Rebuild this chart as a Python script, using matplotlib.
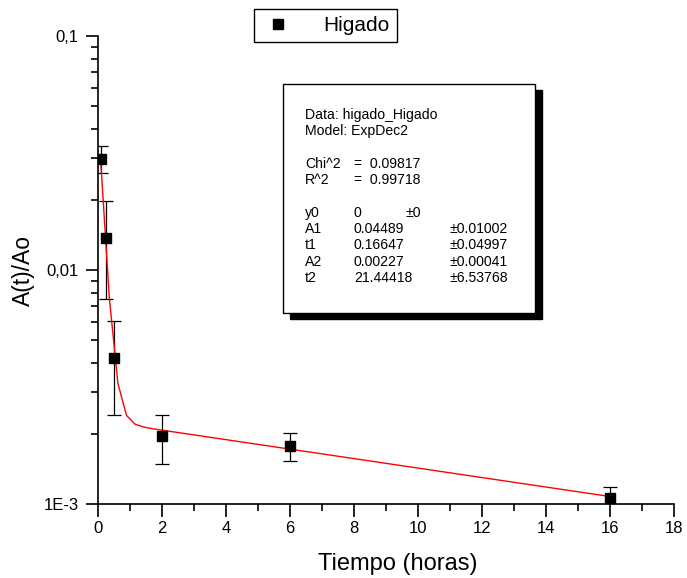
import matplotlib
matplotlib.use("Agg")
import matplotlib.pyplot as plt
import numpy as np
from matplotlib.ticker import FixedLocator, NullFormatter, MultipleLocator
from matplotlib.patches import Rectangle

plt.rcParams["font.family"] = ["Liberation Sans", "DejaVu Sans"]

# data
tiempo = [0.083, 0.25, 0.5, 2, 6, 16]
ratio = [0.0297, 0.0137, 0.00421, 0.00195, 0.00177, 0.00106]
err_low = [0.0260, 0.00752, 0.00240, 0.00148, 0.00152, 0.00094]
err_high = [0.0340, 0.0197, 0.00606, 0.00240, 0.00202, 0.00118]

# ExpDec2 fit parameters shown in the box
y0, A1, t1, A2, t2 = 0.0, 0.04489, 0.16647, 0.00227, 21.44418

stats_lines = [
    ("Data: higado_Higado", None, None),
    ("Model: ExpDec2", None, None),
    None,
    ("Chi^2", "=  0.09817", None),
    ("R^2", "=  0.99718", None),
    None,
    ("y0", "0", "±0"),
    ("A1", "0.04489", "±0.01002"),
    ("t1", "0.16647", "±0.04997"),
    ("A2", "0.00227", "±0.00041"),
    ("t2", "21.44418", "±6.53768"),
]

W, H = 687, 578
fig = plt.figure(figsize=(W / 100, H / 100), dpi=100)


def fx(px):
    return px / W


def fy(py):
    return 1 - py / H


ax = fig.add_axes([fx(98), fy(504), fx(674) - fx(98), fy(36) - fy(504)])

yerr = [np.array(ratio) - np.array(err_low), np.array(err_high) - np.array(ratio)]
ax.errorbar(tiempo, ratio, yerr=yerr, fmt="none", ecolor="black",
            elinewidth=0.9, capsize=5, capthick=0.9, zorder=2)

xfit = np.linspace(tiempo[0], tiempo[-1], 60)
yfit = y0 + A1 * np.exp(-xfit / t1) + A2 * np.exp(-xfit / t2)
ax.plot(xfit, yfit, color="red", lw=1.0, zorder=3)

ax.plot(tiempo, ratio, "s", color="black", ms=7.5, zorder=4, label="Higado")

ax.set_yscale("log")
ax.set_xlim(0, 18)
ax.set_ylim(0.001, 0.1)
ax.yaxis.set_major_locator(FixedLocator([0.001, 0.01, 0.1]))
ax.set_yticklabels(["1E-3", "0,01", "0,1"])
minors = [m * 10.0 ** e for e in (-3, -2) for m in range(2, 10)]
ax.yaxis.set_minor_locator(FixedLocator(minors))
ax.yaxis.set_minor_formatter(NullFormatter())
ax.xaxis.set_major_locator(MultipleLocator(2))
ax.xaxis.set_minor_locator(MultipleLocator(1))

for side in ("top", "right"):
    ax.spines[side].set_visible(False)
for side in ("left", "bottom"):
    ax.spines[side].set_linewidth(1.2)
ax.tick_params(which="major", direction="out", length=9, width=1.2, labelsize=12)
ax.tick_params(axis="y", which="major", pad=5)
ax.tick_params(which="minor", direction="out", length=5, width=1.2)

ax.set_xlabel("Tiempo (horas)", fontsize=17)
ax.xaxis.set_label_coords(0.521, -0.104)
ax.set_ylabel("A(t)/Ao", fontsize=16.5, labelpad=6)

fig.legend(loc="center", bbox_to_anchor=(fx(325.5), fy(25.5)), fontsize=15,
           frameon=True, fancybox=False, edgecolor="black", framealpha=1,
           handletextpad=1.4, borderpad=0.35, handlelength=1.6, markerscale=1.0)

# stats box with shadow
bx0, by0, bx1, by1 = 283, 84, 535, 313
shadow = Rectangle((fx(bx0 + 7), fy(by1 + 6)), fx(bx1 - bx0), fy(by0) - fy(by1),
                   transform=fig.transFigure, facecolor="black", edgecolor="black",
                   zorder=5)
box = Rectangle((fx(bx0), fy(by1)), fx(bx1 - bx0), fy(by0) - fy(by1),
                transform=fig.transFigure, facecolor="white", edgecolor="black",
                lw=1.0, zorder=6)
fig.patches.extend([shadow, box])

line_y = 115
for item in stats_lines:
    if item is not None:
        label, val, err = item
        fig.text(fx(305), fy(line_y), label, fontsize=10.1, va="center", zorder=7)
        if val is not None:
            fig.text(fx(354), fy(line_y), val, fontsize=10.1, va="center", zorder=7)
        if err is not None:
            ex = 406 if label == "y0" else 450
            fig.text(fx(ex), fy(line_y), err, fontsize=10.1, va="center", zorder=7)
    line_y += 16.3

fig.savefig("out.png", dpi=100)
